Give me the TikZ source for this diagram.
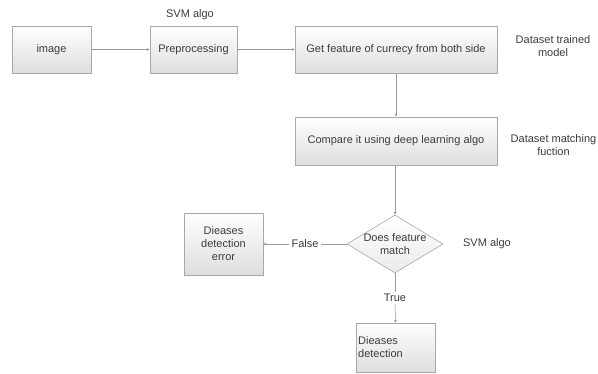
\documentclass[tikz,border=0pt]{standalone}
\usepackage{fontspec}
\setmainfont{Liberation Sans}
\usetikzlibrary{shapes.geometric,arrows.meta,shadows}
\definecolor{edgegray}{HTML}{A8A8A8}
\definecolor{linegray}{HTML}{9A9A9A}
\definecolor{txtgray}{HTML}{3C3C3C}
\tikzset{
  procbox/.style={draw=edgegray, line width=0.6pt, top color=white, bottom color=black!13,
    text=txtgray, font=\fontsize{11}{13}\selectfont, align=center, inner sep=0pt,
    drop shadow={shadow xshift=0.8pt, shadow yshift=-0.8pt, fill=black!35, opacity=0.5}},
  decision/.style={draw=edgegray, line width=0.6pt, diamond, top color=white, bottom color=black!8,
    minimum width=96pt, minimum height=58pt, inner sep=0pt},
  lbl/.style={text=txtgray, font=\fontsize{11}{13}\selectfont, align=center, inner sep=1pt},
  conn/.style={draw=linegray, line width=0.6pt, -{Stealth[length=3pt,width=3pt]}},
  plain/.style={draw=linegray, line width=0.6pt}
}
\begin{document}
\begin{tikzpicture}[x=1pt,y=-1pt]
\path[use as bounding box] (0,0) rectangle (598,374);
\node[procbox, minimum width=79pt, minimum height=47pt] (img) at (51.5,49.5) {image};
\node[procbox, minimum width=87pt, minimum height=47pt] (pre) at (193.5,49.5) {Preprocessing};
\node[procbox, minimum width=202pt, minimum height=47pt] (feat) at (396,49.5) {Get feature of currecy from both side};
\node[procbox, minimum width=202pt, minimum height=48pt] (cmp) at (396,141) {Compare it using deep learning algo};
\node[decision] (dec) at (395,244) {};
\node[lbl] (dect) at (dec.center) {Does feature\\match};
\node[procbox, minimum width=79pt, minimum height=62pt] (err) at (223.5,244) {Dieases\\detection\\error};
\node[procbox, minimum width=79pt, minimum height=49pt] (det) at (395.5,347.5) {};
\node[lbl, anchor=west, align=left] (dett) at (357,347) {Dieases\\detection};
\node[lbl] (svm1) at (190,15) {SVM algo};
\node[lbl] (dtm) at (553,46) {Dataset trained\\model};
\node[lbl] (dmf) at (553.5,145) {Dataset matching\\fuction};
\node[lbl] (svm2) at (487,244) {SVM algo};
\draw[conn] (img) -- (pre);
\draw[conn] (pre) -- (feat);
\draw[conn] (feat) -- (cmp);
\draw[conn] (cmp.south -| dec.north) -- (dec.north);
\node[lbl, fill=white, inner sep=2pt] (fl) at (305,244) {False};
\draw[plain] (dec.west) -- (fl.east);
\draw[conn] (fl.west) -- (err.east);
\node[lbl, fill=white, inner sep=2pt] (tr) at (395,298) {True};
\draw[plain] (dec.south) -- (tr.north);
\draw[conn] (tr.south) -- (det.north);
\end{tikzpicture}
\end{document}
